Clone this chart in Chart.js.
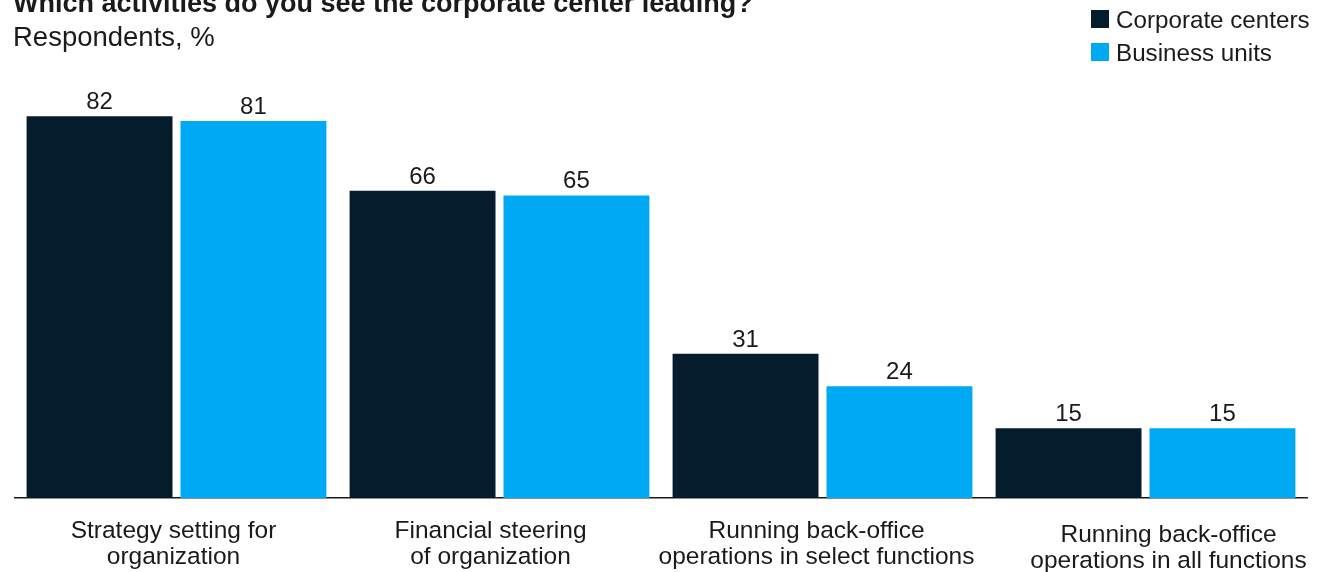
<!DOCTYPE html>
<html>
<head>
<meta charset="utf-8">
<script src="https://cdn.jsdelivr.net/npm/chart.js@4/dist/chart.umd.min.js"></script>
<style>
  body { margin: 0; background: #fff; font-family: "Liberation Sans", Arial, sans-serif; color: #1a1a1a; }
  #wrap { position: relative; width: 1328px; height: 572px; overflow: hidden; }
  #chart-box { position: absolute; left: 0; top: 0; width: 1328px; height: 572px; }
  .title { position: absolute; left: 13px; top: -10px; font-size: 27px; line-height: 27px; font-weight: bold; white-space: nowrap; }
  .subtitle { position: absolute; left: 13px; top: 23px; font-size: 27.5px; line-height: 27.5px; white-space: nowrap; }
  .legend-item { position: absolute; left: 1091px; font-size: 24.2px; line-height: 24px; white-space: nowrap; }
  .legend-item span { position: absolute; left: 0; width: 18px; height: 18px; }
  .legend-item b { position: absolute; left: 25px; top: 0; font-weight: normal; }
</style>
</head>
<body>
<div id="wrap">
  <div id="chart-box"><canvas id="chart"></canvas></div>
  <div class="title">Which activities do you see the corporate center leading?</div>
  <div class="subtitle">Respondents, %</div>
  <div class="legend-item" id="legend-0" style="top:8px"><span style="top:2px"></span><b></b></div>
  <div class="legend-item" id="legend-1" style="top:41px"><span style="top:2px"></span><b></b></div>
</div>
<script>
// Categorias e valores (% de respondentes)
const categories = [
  ["Strategy setting for", "organization"],
  ["Financial steering", "of organization"],
  ["Running back-office", "operations in select functions"],
  ["Running back-office", "operations in all functions"]
]
const seriesNames = ["Corporate centers", "Business units"]
const corporateCenters = [82, 66, 31, 15]
const businessUnits = [81, 65, 24, 15]
const seriesColors = ["#051c2c", "#00a9f4"]

// Pequenos ajustes (px) na posição de cada rótulo de categoria
const labelNudge = [[-3, 0], [-9, 0], [-6, 0], [23, 4]]
const fontFamily = '"Liberation Sans", Arial, sans-serif'

// Legenda em HTML
seriesNames.forEach((name, i) => {
  const item = document.getElementById("legend-" + i)
  item.querySelector("span").style.background = seriesColors[i]
  item.querySelector("b").textContent = name
})

// Plugin para escrever o valor acima de cada barra e os rótulos das categorias
const barTexts = {
  id: "barTexts",
  afterDatasetsDraw(chart) {
    const ctx = chart.ctx
    ctx.save()
    ctx.fillStyle = "#1a1a1a"
    ctx.textAlign = "center"
    ctx.textBaseline = "alphabetic"

    ctx.font = "24px " + fontFamily
    chart.data.datasets.forEach((ds, i) => {
      chart.getDatasetMeta(i).data.forEach((bar, j) => {
        ctx.fillText(ds.data[j], bar.x, bar.y - 7)
      })
    })

    const xScale = chart.scales.x
    ctx.font = "24.5px " + fontFamily
    chart.data.labels.forEach((lines, i) => {
      const x = xScale.getPixelForTick(i) + labelNudge[i][0]
      const y = xScale.top + 40 + labelNudge[i][1]
      lines.forEach((line, k) => ctx.fillText(line, x, y + k * 26))
    })
    ctx.restore()
  }
}

new Chart(document.getElementById("chart"), {
  type: "bar",
  data: {
    labels: categories,
    datasets: [
      { label: seriesNames[0], data: corporateCenters, backgroundColor: seriesColors[0] },
      { label: seriesNames[1], data: businessUnits, backgroundColor: seriesColors[1] }
    ]
  },
  options: {
    responsive: true,
    maintainAspectRatio: false,
    animation: false,
    layout: { padding: { top: 79, left: 15, right: 21, bottom: 0 } },
    datasets: { bar: { categoryPercentage: 0.953, barPercentage: 0.948 } },
    plugins: {
      legend: { display: false },
      tooltip: { enabled: false }
    },
    scales: {
      x: {
        grid: { display: false, drawTicks: false },
        border: { display: true, color: "#1a1a1a", width: 1.5 },
        ticks: { display: false },
        afterFit(scale) { scale.height = 74 }
      },
      y: {
        display: false,
        min: 0,
        max: 90
      }
    }
  },
  plugins: [barTexts]
})
</script>
</body>
</html>
